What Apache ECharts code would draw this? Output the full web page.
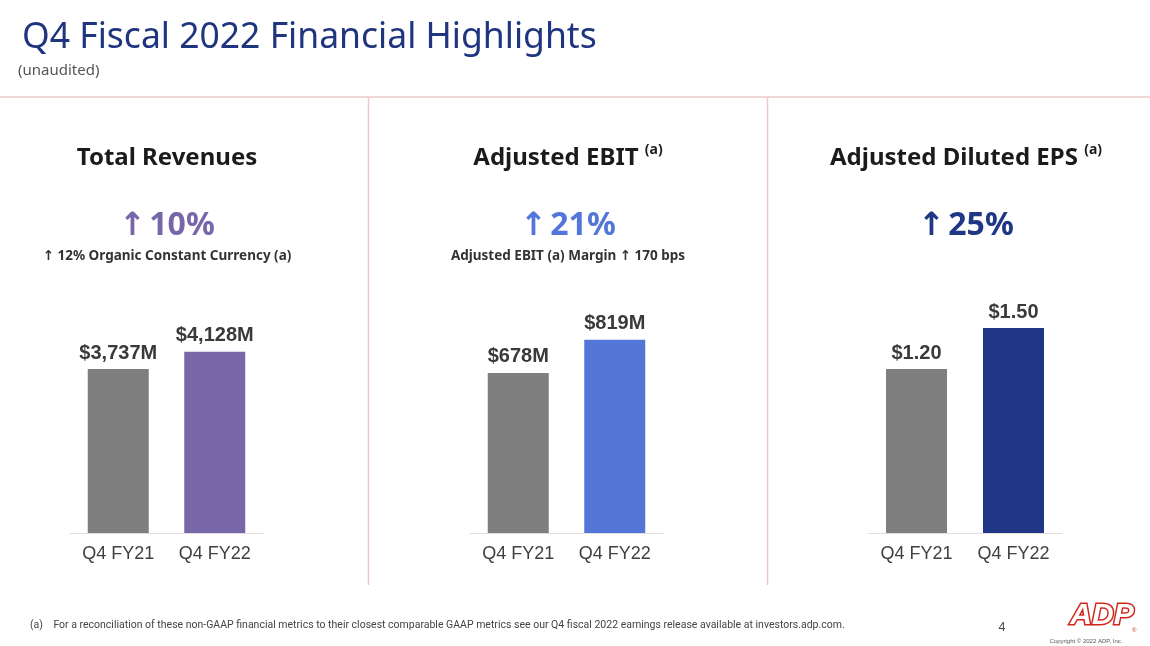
<!DOCTYPE html>
<html>
<head>
<meta charset="utf-8">
<script src="https://cdn.jsdelivr.net/npm/echarts@6/dist/echarts.min.js"></script>
<style>
    html, body {margin: 0; padding: 0; background: #ffffff;}
    #main {width: 1150px; height: 646px;}
</style>
</head>
<body>
<div id="main"></div>
<script>
// data
const categories = ['Q4 FY21', 'Q4 FY22'];
const revenues = [3737, 4128];
const ebit = [678, 819];
const eps = [1.20, 1.50];
const revenue_labels = ['$3,737M', '$4,128M'];
const ebit_labels = ['$678M', '$819M'];
const eps_labels = ['$1.20', '$1.50'];

const GREY = '#7f7f7f';
const PURPLE = '#7867a8';
const BLUE = '#5576d9';
const NAVY = '#1f3784';
const LINE = '#eec8c8';
const HEAD_FONT = '"Noto Sans", "DejaVu Sans", sans-serif';
const BAR_FONT = '"Liberation Sans", Arial, sans-serif';

const panels = [
    {left: 70, width: 193, max: 5309, values: revenues, labels: revenue_labels, color: PURPLE},
    {left: 470, width: 193, max: 987, values: ebit, labels: ebit_labels, color: BLUE},
    {left: 868, width: 194, max: 1.705, values: eps, labels: eps_labels, color: NAVY},
];

let my_chart = echarts.init(document.getElementById('main'), null, {renderer: 'canvas'});

function center_text(x, y, text, size, color, weight, rich) {
    return {
        type: 'text', x: x, y: y,
        style: {
            text: text, fontSize: size, fontWeight: weight, fontFamily: HEAD_FONT,
            fill: color, align: 'center', verticalAlign: 'middle', rich: rich
        }
    };
}

const title_rich = {
    t: {fontSize: 24, fontWeight: 'bold', fontFamily: HEAD_FONT, fill: '#1b1b1b', lineHeight: 30},
    s: {fontSize: 14, fontWeight: 'bold', fontFamily: HEAD_FONT, fill: '#1b1b1b', lineHeight: 30, verticalAlign: 'top', padding: [0, 0, 12, 0]}
};

const option = {
    animation: false,
    backgroundColor: '#ffffff',
    grid: panels.map(p => ({left: p.left, width: p.width, top: 300, bottom: 113, containLabel: false})),
    xAxis: panels.map((p, i) => ({
        type: 'category', gridIndex: i, data: categories,
        axisLine: {lineStyle: {color: '#e6dcdc', width: 1}},
        axisTick: {show: false},
        axisLabel: {color: '#404040', fontSize: 18, fontFamily: BAR_FONT, margin: 12}
    })),
    yAxis: panels.map((p, i) => ({
        type: 'value', gridIndex: i, min: 0, max: p.max, show: false,
        splitLine: {show: false}
    })),
    series: panels.map((p, i) => ({
        type: 'bar', xAxisIndex: i, yAxisIndex: i, barWidth: 61,
        data: p.values.map((v, j) => ({
            value: v,
            itemStyle: {color: j === 0 ? GREY : p.color}
        })),
        label: {
            show: true, position: 'top', distance: 6,
            formatter: params => p.labels[params.dataIndex],
            color: '#3a3a3a', fontSize: 20, fontWeight: 'bold', fontFamily: BAR_FONT
        }
    })),
    graphic: [
        // header
        {
            type: 'text', x: 22, y: 38,
            style: {
                text: 'Q4 Fiscal 2022 Financial Highlights', fontSize: 35.5, fontFamily: HEAD_FONT,
                fill: '#1f3580', verticalAlign: 'middle'
            }
        },
        {
            type: 'text', x: 18, y: 71,
            style: {text: '(unaudited)', fontSize: 15, fontFamily: HEAD_FONT, fill: '#555555', verticalAlign: 'middle'}
        },
        // frame lines
        {type: 'line', shape: {x1: 0, y1: 97, x2: 1150, y2: 97}, style: {stroke: LINE, lineWidth: 1.5}},
        {type: 'line', shape: {x1: 368.5, y1: 97, x2: 368.5, y2: 585}, style: {stroke: LINE, lineWidth: 1.5}},
        {type: 'line', shape: {x1: 767.5, y1: 97, x2: 767.5, y2: 585}, style: {stroke: LINE, lineWidth: 1.5}},
        // panel titles
        center_text(167, 158, '{t|Total Revenues}', 24, '#1b1b1b', 'bold', title_rich),
        center_text(568, 158, '{t|Adjusted EBIT} {s|(a)}', 24, '#1b1b1b', 'bold', title_rich),
        center_text(966, 158, '{t|Adjusted Diluted EPS} {s|(a)}', 24, '#1b1b1b', 'bold', title_rich),
        // growth figures
        center_text(167, 226, '↑\u200a10%', 32, PURPLE, 'bold'),
        center_text(568, 226, '↑\u200a21%', 32, BLUE, 'bold'),
        center_text(966, 226, '↑\u200a25%', 32, NAVY, 'bold'),
        center_text(167, 256, '↑ 12% Organic Constant Currency (a)', 13.5, '#333333', 'bold'),
        center_text(568, 256, 'Adjusted EBIT (a) Margin ↑ 170 bps', 13.5, '#333333', 'bold'),
        // footer
        {
            type: 'text', x: 30, y: 625,
            style: {
                text: '(a)    For a reconciliation of these non-GAAP financial metrics to their closest comparable GAAP metrics see our Q4 fiscal 2022 earnings release available at investors.adp.com.',
                fontSize: 10.5, fontFamily: '"Liberation Sans Narrow", "Roboto", sans-serif', fill: '#444444', verticalAlign: 'middle'
            }
        },
        {
            type: 'text', x: 1002, y: 628,
            style: {text: '4', fontSize: 12, fontFamily: HEAD_FONT, fill: '#444444', verticalAlign: 'middle', align: 'center'}
        },
        {
            type: 'text', x: 1102, y: 616,
            style: {
                text: 'ADP', fontSize: 30, fontWeight: 'bold', fontStyle: 'italic', fontFamily: BAR_FONT,
                fill: '#ffffff', stroke: '#d0271d', lineWidth: 3, align: 'center', verticalAlign: 'middle'
            }
        },
        {
            type: 'text', x: 1132, y: 630,
            style: {text: '®', fontSize: 6, fontFamily: BAR_FONT, fill: '#d0271d', verticalAlign: 'middle'}
        },
        {
            type: 'text', x: 1086, y: 641,
            style: {text: 'Copyright © 2022 ADP, Inc.', fontSize: 6, fontFamily: BAR_FONT, fill: '#555555', align: 'center', verticalAlign: 'middle'}
        }
    ]
};

my_chart.setOption(option);
</script>
</body>
</html>
